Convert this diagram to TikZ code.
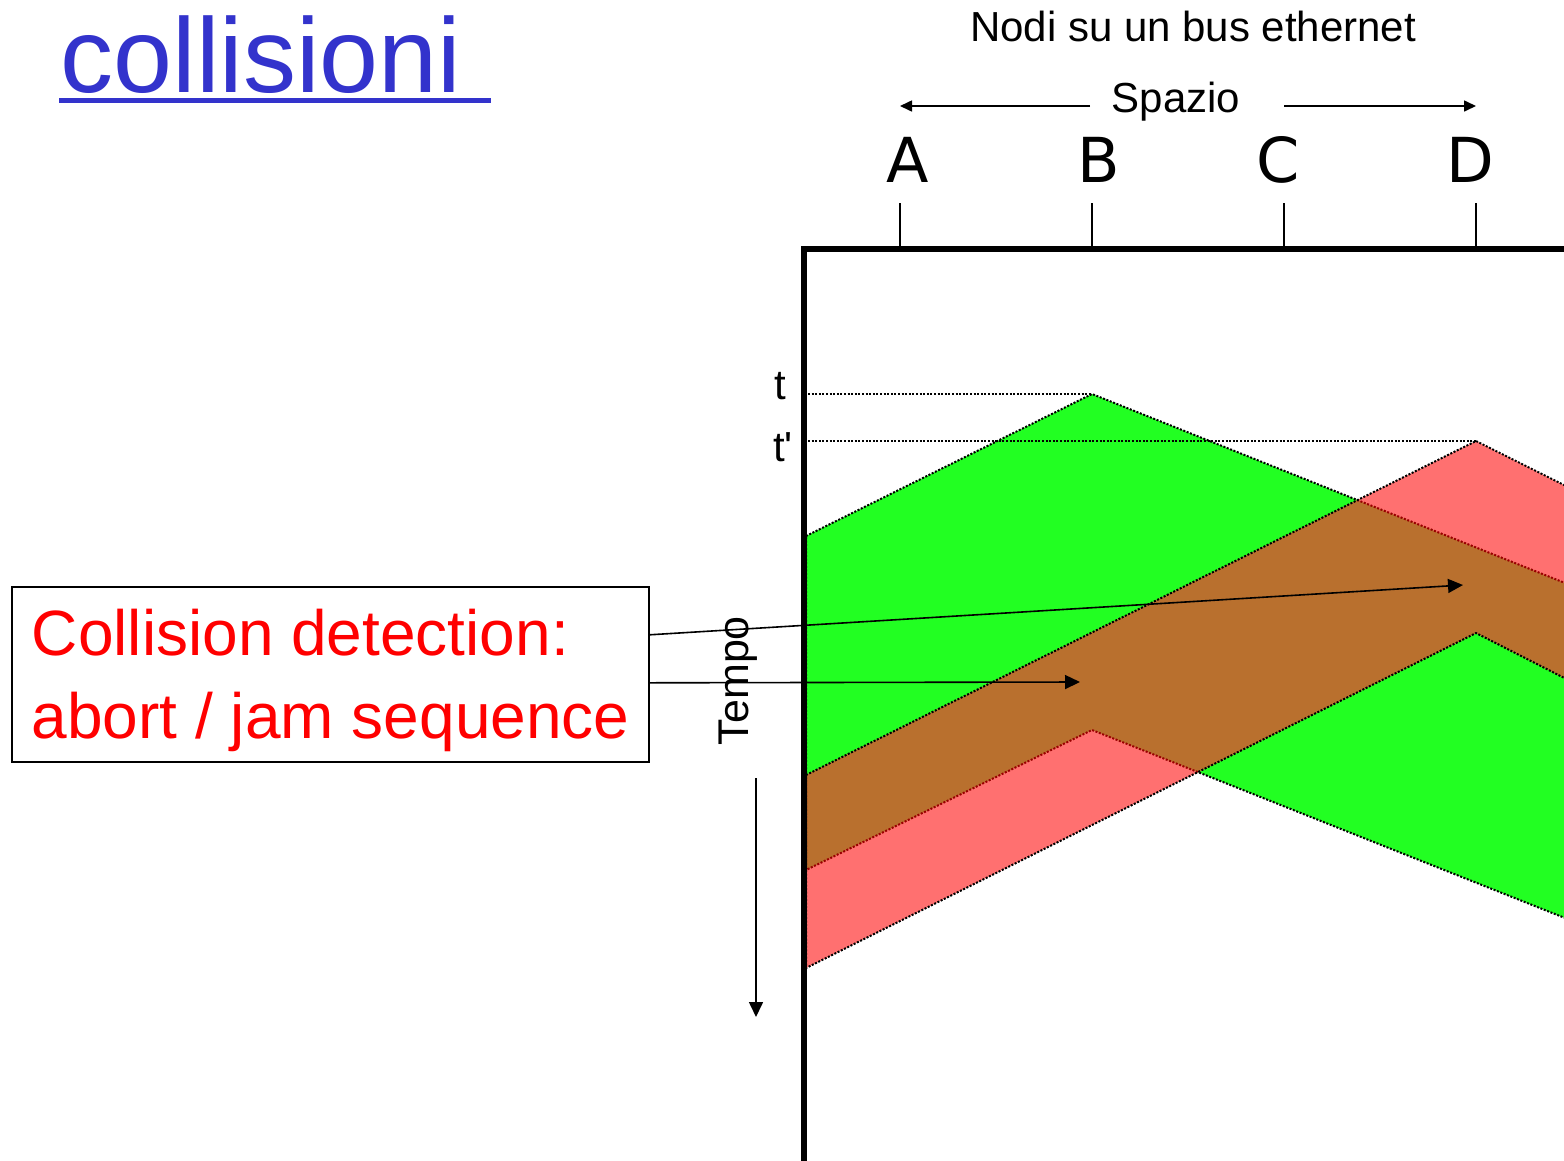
\documentclass[tikz,border=0pt]{standalone}
\usepackage{fontspec}
\setmainfont{Liberation Sans}
\newfontfamily\dejavu{DejaVu Sans}
\usepackage{tikz}
\usetikzlibrary{arrows.meta}
\usepackage{xcolor}
\definecolor{titleBlue}{RGB}{51, 51, 204}
\definecolor{frameB}{RGB}{34, 255, 34}
\definecolor{frameD}{RGB}{255, 112, 112}
\definecolor{overlap}{RGB}{185, 112, 46}

\tikzset{
  big/.style={font=\fontsize{42}{50}\selectfont},
  station/.style={font=\dejavu\fontsize{62}{70}\selectfont, anchor=base},
  cdtext/.style={font=\fontsize{64}{80}\selectfont, red, anchor=base west},
  edge/.style={dash pattern=on 2pt off 1.6pt, line width=2pt},
  smalltip/.style={-{Triangle[length=12pt, width=11pt]}}
}

\begin{document}
\begin{tikzpicture}[>={Triangle[length=15pt, width=14pt]}, x=1pt, y=-1pt,
  line width=1.6pt, every node/.style={inner sep=0pt}]
  \useasboundingbox (0,0) rectangle (1564,1160);

  \def\bandB{(806,536) -- (1092,394) -- (1580,589) -- (1580,924) -- (1092,730) -- (806,870) -- cycle}
  \def\bandD{(806,775) -- (1476,441) -- (1580,493) -- (1580,686) -- (1476,633) -- (806,968) -- cycle}

  % frame sent by B
  \fill[frameB] \bandB;
  \draw[edge] \bandB;
  % frame sent by D, and where the two meet
  \fill[frameD] \bandD;
  \begin{scope}
    \clip \bandB;
    \fill[overlap] \bandD;
  \end{scope}
  \begin{scope}
    \clip \bandD;
    \draw[edge, red!60!black] \bandB;
  \end{scope}
  \draw[edge] \bandD;

  \node[font=\fontsize{106}{120}\selectfont, titleBlue, anchor=base west] (title) at (60,92) {collisioni};
  \draw[titleBlue, line width=5pt] (59,100.5) -- (491,100.5);

  \node[big, anchor=base] (nodi) at (1193,41) {Nodi su un bus ethernet};
  \node[big, anchor=base] (spazio) at (1176,112) {Spazio};
  \coordinate (spL) at (1090,106);
  \coordinate (spA) at (900,106);
  \coordinate (spR) at (1284,106);
  \coordinate (spD) at (1476,106);
  \draw[smalltip] (spL) -- (spA);
  \draw[smalltip] (spR) -- (spD);

  \node[station] (A) at (908,182) {A};
  \node[station] (B) at (1099,182) {B};
  \node[station] (C) at (1278,182) {C};
  \node[station] (D) at (1470,182) {D};
  \draw (900,203) -- (900,249);
  \draw (1092,203) -- (1092,249);
  \draw (1284,203) -- (1284,249);
  \draw (1476,203) -- (1476,249);

  % time axis and bus
  \draw[line width=6pt] (804,1170) -- (804,249) -- (1570,249);

  \node[big, anchor=base] (t1) at (780,399) {t};
  \node[big, anchor=base] (t2) at (783,461) {t\textquotesingle};
  \coordinate (t1s) at (808,394);
  \coordinate (peakB) at (1092,394);
  \coordinate (t2s) at (808,441);
  \coordinate (peakD) at (1476,441);
  \draw[edge] (t1s) -- (peakB);
  \draw[edge] (t2s) -- (peakD);

  \node[font=\fontsize{43}{50}\selectfont, rotate=90, anchor=base west] (tempo) at (748,746) {Tempo};
  \coordinate (tS) at (756,778);
  \coordinate (tE) at (756,1017);
  \draw[->] (tS) -- (tE);

  \node[draw, minimum width=637, minimum height=175, anchor=north west] (cdbox) at (11,586) {};
  \node[cdtext] (cd1) at (31,655) {Collision detection:};
  \node[cdtext] (cd2) at (31,738) {abort / jam sequence};
  \coordinate (hitD) at (1463,585);
  \coordinate (hitB) at (1080,682);
  \draw[->] ([yshift=39.5pt]cdbox.east) -- (hitD);
  \draw[->] ([yshift=-8.5pt]cdbox.east) -- (hitB);
\end{tikzpicture}
\end{document}
